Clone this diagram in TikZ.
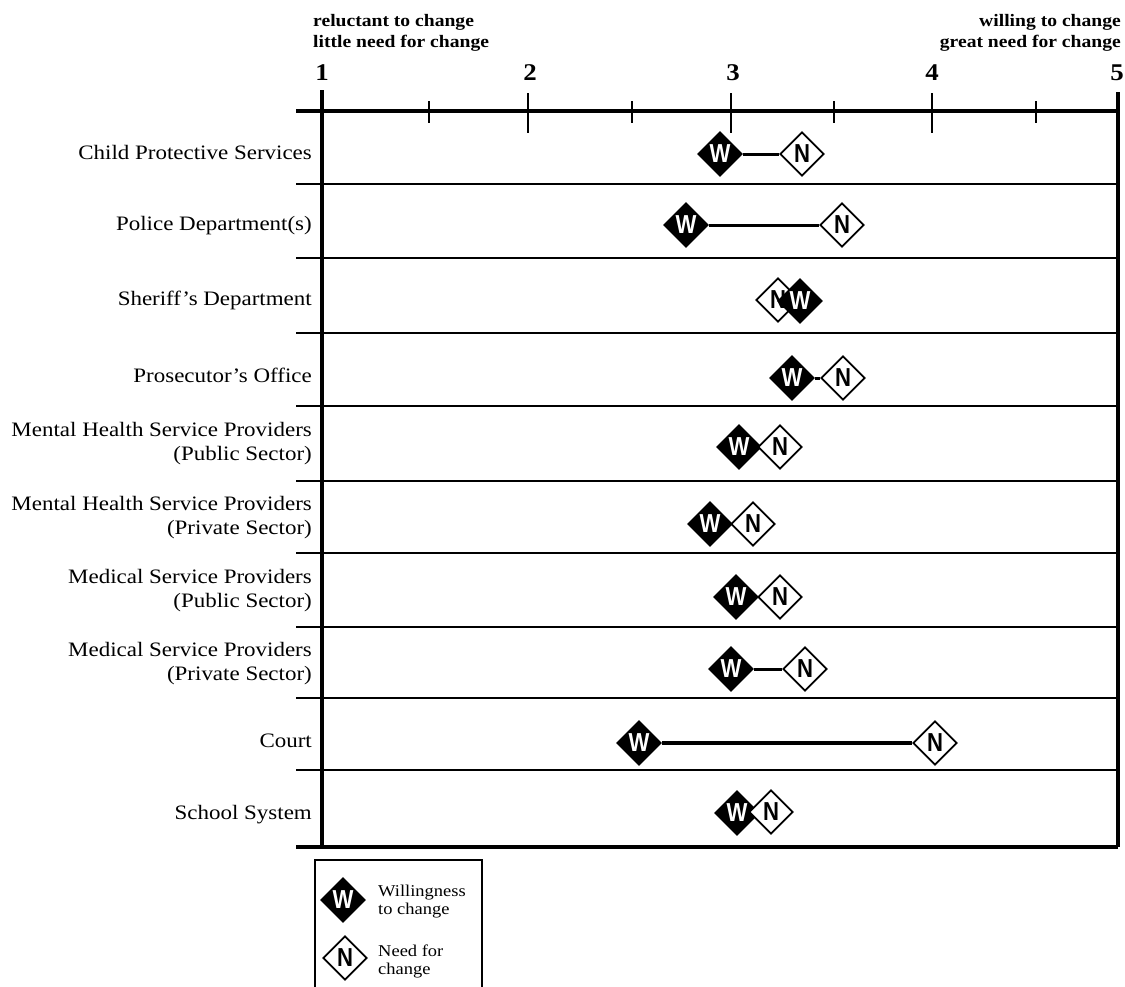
\documentclass[tikz,border=0pt]{standalone}
\usepackage{fontspec}
\setmainfont[FakeStretch=1.12]{Liberation Serif}
\newfontfamily\dsans[FakeStretch=0.85]{Liberation Sans}
\usetikzlibrary{shapes.geometric}
\tikzset{
  lbl/.style={anchor=east, font=\fontsize{20.5}{24}\selectfont, align=right, inner sep=0pt},
  dia/.style={diamond, draw=black, line width=1.8pt, minimum width=44pt, minimum height=44pt, inner sep=0pt, font=\dsans\bfseries\fontsize{26}{26}\selectfont},
  wd/.style={dia, fill=black, text=white},
  nd/.style={dia, fill=white, text=black},
  conn/.style={line width=3pt},
  sepline/.style={line width=2pt},
  frameline/.style={line width=3.5pt},
  majtick/.style={line width=2pt},
  mintick/.style={line width=1.8pt},
  num/.style={font=\bfseries\fontsize{24}{24}\selectfont, inner sep=0pt},
  toplbl/.style={font=\bfseries\fontsize{17.5}{21}\selectfont, inner sep=0pt},
  legtxt/.style={anchor=west, font=\fontsize{16.5}{18}\selectfont, align=left, inner sep=0pt}
}
\begin{document}
\begin{tikzpicture}[x=1pt,y=-1pt]
\useasboundingbox (0,0) rectangle (1125,986);
% grid
\foreach \yy in {184,258,333,406,481,553,627,698,770}
  \draw[sepline] (296,\yy) -- (1118,\yy);
\draw[frameline] (296,111) -- (1118,111);
\draw[frameline] (296,847) -- (1118,847);
\draw[frameline] (322,90) -- (322,847);
\draw[frameline] (1118,92) -- (1118,847);
\foreach \xx in {528,731,932}
  \draw[majtick] (\xx,93) -- (\xx,133);
\foreach \xx in {429,632,834,1036}
  \draw[mintick] (\xx,101) -- (\xx,123);
% axis numbers
\node[num] (t1) at (322,73) {1};
\node[num] (t2) at (530,73) {2};
\node[num] (t3) at (733,73) {3};
\node[num] (t4) at (932,73) {4};
\node[num] (t5) at (1117,73) {5};
\node[toplbl, anchor=west, align=left] (tl) at (313,33) {reluctant to change\\little need for change};
\node[toplbl, anchor=east, align=right] (tr) at (1121,33) {willing to change\\great need for change};
% row labels
\node[lbl] (l1) at (312,152) {Child Protective Services};
\node[lbl] (l2) at (312,226) {Police Department(s)};
\node[lbl] (l3) at (312,300) {Sheriff's Department};
\node[lbl] (l4) at (312,375) {Prosecutor's Office};
\node[lbl] (l5) at (312,444) {Mental Health Service Providers\\(Public Sector)};
\node[lbl] (l6) at (312,518) {Mental Health Service Providers\\(Private Sector)};
\node[lbl] (l7) at (312,591) {Medical Service Providers\\(Public Sector)};
\node[lbl] (l8) at (312,664) {Medical Service Providers\\(Private Sector)};
\node[lbl] (l9) at (312,741) {Court};
\node[lbl] (l10) at (312,815) {School System};
% diamonds
\node[wd] (w1) at (720,154) {W};
\node[nd] (n1) at (802,154) {N};
\draw[conn] (w1) -- (n1);
\node[wd] (w2) at (686,225) {W};
\node[nd] (n2) at (842,225) {N};
\draw[conn] (w2) -- (n2);
\node[nd] (n3) at (778,300) {N};
\node[wd] (w3) at (800,301) {W};
\node[wd] (w4) at (792,378) {W};
\node[nd] (n4) at (843,378) {N};
\draw[conn] (w4) -- (n4);
\node[wd] (w5) at (739,447) {W};
\node[nd] (n5) at (780,447) {N};
\node[wd] (w6) at (710,524) {W};
\node[nd] (n6) at (753,524) {N};
\node[wd] (w7) at (736,597) {W};
\node[nd] (n7) at (780,597) {N};
\node[wd] (w8) at (731,669) {W};
\node[nd] (n8) at (805,669) {N};
\draw[conn] (w8) -- (n8);
\node[wd] (w9) at (639,743) {W};
\node[nd] (n9) at (935,743) {N};
\draw[conn, line width=4pt] (w9) -- (n9);
\node[wd] (w10) at (737,813) {W};
\node[nd] (n10) at (771,812) {N};
% legend
\draw[line width=2pt] (315,992) -- (315,860) -- (482,860) -- (482,992);
\node[wd] (lw) at (343,900) {W};
\node[nd] (ln) at (345,958) {N};
\node[legtxt] (lwt) at (378,902) {Willingness\\to change};
\node[legtxt] (lnt) at (378,961) {Need for\\change};
\end{tikzpicture}
\end{document}
